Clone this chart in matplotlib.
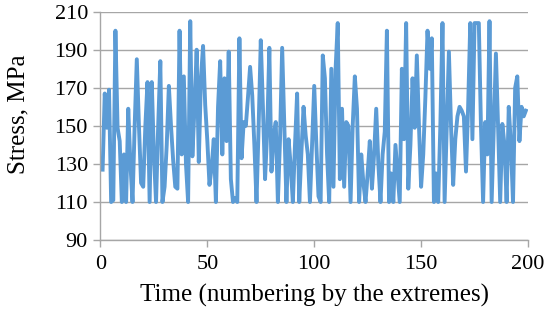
import matplotlib
matplotlib.use("Agg")
import matplotlib.pyplot as plt

# stress at each extreme (index 1..199)
stress = [
    127, 167, 149, 169, 110, 111, 200, 149, 142, 110,
    135, 110, 159, 130, 110, 150, 185, 150, 120, 118,
    150, 173, 110, 173, 135, 110, 150, 184, 110, 118,
    140, 171, 150, 132, 118, 117, 200, 135, 176, 130,
    110, 205, 134, 160, 190, 131, 175, 192, 161, 142,
    119, 128, 143, 110, 160, 184, 135, 175, 142, 189,
    122, 110, 112, 110, 196, 133, 152, 150, 165, 181,
    166, 140, 110, 150, 195, 160, 122, 147, 191, 126,
    145, 152, 110, 143, 191, 150, 110, 143, 129, 110,
    140, 167, 110, 136, 160, 145, 135, 110, 140, 171,
    140, 113, 110, 187, 175, 135, 110, 180, 118, 180,
    204, 122, 159, 118, 152, 150, 110, 150, 176, 159,
    110, 135, 120, 110, 125, 142, 117, 135, 159, 130,
    110, 135, 147, 200, 110, 125, 110, 140, 125, 110,
    180, 143, 204, 117, 140, 175, 149, 187, 150, 118,
    135, 165, 200, 180, 196, 110, 125, 110, 150, 204,
    110, 150, 189, 150, 119, 143, 155, 160, 158, 155,
    126, 160, 204, 143, 204, 204, 204, 150, 110, 152,
    135, 205, 110, 150, 188, 150, 110, 151, 140, 110,
    160, 140, 110, 170, 176, 142, 160, 155, 158,
]
time_idx = list(range(1, len(stress) + 1))

x_ticks = [0, 50, 100, 150, 200]
y_ticks = [90, 110, 130, 150, 170, 190, 210]

plt.rcParams['font.family'] = ['Liberation Serif', 'DejaVu Serif']

fig = plt.figure(figsize=(5.46, 3.24), dpi=100)
ax = fig.add_axes([0.184, 0.259, 0.783, 0.705])

ax.plot(time_idx, stress, color='#5B9BD5', linewidth=2.8, solid_joinstyle='round')

ax.set_xlim(0, 200)
ax.set_ylim(90, 210)
ax.set_xticks(x_ticks)
ax.set_yticks(y_ticks)
ax.yaxis.grid(True, color='#A6A6A6', linewidth=1.0)
ax.set_axisbelow(True)

for s in ['top', 'right']:
    ax.spines[s].set_visible(False)
for s in ['left', 'bottom']:
    ax.spines[s].set_color('#A6A6A6')
    ax.spines[s].set_linewidth(1.0)

ax.tick_params(axis='both', colors='#A6A6A6', labelcolor='black', labelsize=16,
               length=5, width=1.0, direction='out')
ax.tick_params(axis='x', pad=6)
ax.tick_params(axis='y', pad=4)

ax.set_xlabel('Time (numbering by the extremes)', fontsize=18, labelpad=7)
ax.set_ylabel('Stress, MPa', fontsize=18)
ax.yaxis.set_label_coords(-0.165, 0.55)

fig.savefig('out.png', dpi=100)
